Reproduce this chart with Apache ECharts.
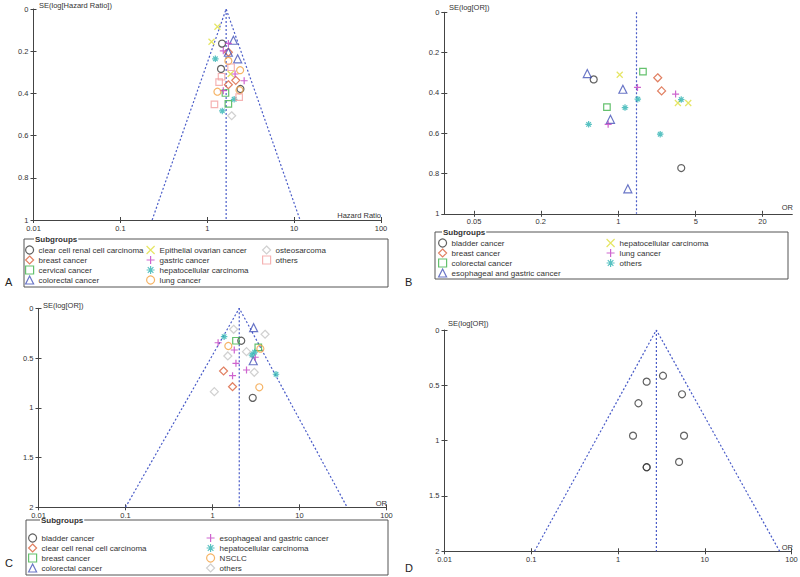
<!DOCTYPE html>
<html><head><meta charset="utf-8">
<script src="https://cdn.jsdelivr.net/npm/echarts@6/dist/echarts.min.js"></script>
<style>
html,body{margin:0;padding:0;background:#fff;}
#wrap{position:relative;width:800px;height:577px;overflow:hidden;}
.p{position:absolute;}
</style></head><body>
<div id="wrap">
<div id="pA" class="p" style="left:0;top:0;width:400px;height:290px"></div>
<div id="pB" class="p" style="left:400px;top:0;width:400px;height:290px"></div>
<div id="pC" class="p" style="left:0;top:290px;width:400px;height:287px"></div>
<div id="pD" class="p" style="left:400px;top:290px;width:400px;height:287px"></div>
</div>
<script>
// ---------- DATA (effect size, SE) ----------
// Panel A : Hazard Ratio
const A_xTicks = [0.01, 0.1, 1, 10, 100];
const A_yTicks = [0, 0.2, 0.4, 0.6, 0.8, 1];
const A_clearCell = [[1.48,0.164],[1.44,0.284],[2.41,0.379]];
const A_breast = [[1.75,0.205],[2.13,0.338],[1.75,0.359]];
const A_cervical = [[1.62,0.398],[1.75,0.45]];
const A_colorectal = [[2.0,0.148],[1.75,0.205],[2.24,0.236]];
const A_ovarian = [[1.31,0.084],[1.12,0.155],[1.86,0.308]];
const A_gastric = [[1.75,0.163],[1.53,0.198],[2.09,0.308],[2.66,0.34],[1.53,0.387]];
const A_hcc = [[1.24,0.236],[2.04,0.428],[1.49,0.483]];
const A_lung = [[1.75,0.246],[2.39,0.29],[1.31,0.392],[2.35,0.385]];
const A_osteo = [[1.91,0.506]];
const A_others = [[1.88,0.276],[1.46,0.321],[1.37,0.347],[2.33,0.418],[1.21,0.452]];
const A_funnelX = [0.232, 1.65, 11.7];
const A_funnelSE = [1, 0, 1];
const A_pooled = 1.65;

// Panel B : OR
const B_xTicks = [0.05, 0.2, 1, 5, 20];
const B_xRange = [0.0269, 37.2];
const B_yTicks = [0, 0.2, 0.4, 0.6, 0.8, 1];
const B_bladder = [[0.60,0.333],[3.70,0.773]];
const B_breast = [[2.27,0.325],[2.46,0.39]];
const B_colorectal = [[1.67,0.294],[0.79,0.471]];
const B_esoGastric = [[0.525,0.304],[1.10,0.382],[0.85,0.531],[1.22,0.876]];
const B_hcc = [[1.03,0.31],[3.45,0.45],[4.28,0.45]];
const B_lung = [[1.49,0.373],[3.29,0.406],[0.81,0.556]];
const B_others = [[1.50,0.431],[1.15,0.473],[0.54,0.556],[3.70,0.433],[2.39,0.605]];
const B_pooled = 1.46;

// Panel C : OR
const C_xTicks = [0.01, 0.1, 1, 10, 100];
const C_yTicks = [0, 0.5, 1, 1.5, 2];
const C_bladder = [[2.14,0.326],[2.90,0.90]];
const C_clearCell = [[1.34,0.63],[1.70,0.788]];
const C_breast = [[1.86,0.326],[3.36,0.392]];
const C_colorectal = [[2.97,0.195],[2.94,0.527]];
const C_esoGastric = [[1.16,0.346],[1.78,0.419],[1.86,0.553],[1.70,0.677],[2.46,0.62],[3.10,0.492]];
const C_hcc = [[1.36,0.285],[2.84,0.47],[3.05,0.44],[5.37,0.663]];
const C_nsclc = [[1.52,0.379],[3.55,0.406],[3.45,0.794]];
const C_others = [[1.75,0.211],[4.02,0.261],[1.50,0.479],[2.46,0.436],[3.02,0.643],[1.05,0.838]];
const C_funnelX = [0.10, 2.03, 35.3];
const C_funnelSE = [2, 0, 2];
const C_pooled = 2.03;

// Panel D : OR
const D_xTicks = [0.01, 0.1, 1, 10, 100];
const D_yTicks = [0, 0.5, 1, 1.5, 2];
const D_studies = [[3.30,0.413],[2.14,0.467],[5.47,0.581],[1.72,0.662],[1.49,0.955],[5.77,0.955],[5.06,1.192],[2.14,1.24],[2.14,1.24]];
const D_funnelX = [0.109, 2.77, 73];
const D_funnelSE = [2, 0, 2];
const D_pooled = 2.77;

// ---------- STYLES ----------
const FONT = "'Liberation Sans', Arial, sans-serif";
const FUNNEL = '#4a5cc8';
const AX = '#444';
const P_X = 'path://M0,0L10,10M0,10L10,0';
const P_PLUS = 'path://M5,0L5,10M0,5L10,5';
const P_AST = 'path://M1.5,1.5L8.5,8.5M1.5,8.5L8.5,1.5M5,0L5,10M0,5L10,5';
const MK = {
  blackCircle: {symbol:'circle', color:'#3a3a3a', size:7},
  redDiamond: {symbol:'diamond', color:'#d9603b', size:8},
  greenSquare: {symbol:'rect', color:'#3fb24a', size:6.5},
  blueTriangle: {symbol:'triangle', color:'#4352b8', size:8},
  yellowX: {symbol:P_X, color:'#dede3c', size:6},
  magentaPlus: {symbol:P_PLUS, color:'#c23fc2', size:7},
  cyanAst: {symbol:P_AST, color:'#2fb3b3', size:6.5},
  orangeCircle: {symbol:'circle', color:'#f2a040', size:7},
  grayDiamond: {symbol:'diamond', color:'#c4c4c4', size:8},
  pinkSquare: {symbol:'rect', color:'#f2a0a0', size:6.5}
};
const lg = v => Math.log10(v);
const fmt = v => String(Number(Math.pow(10, v).toPrecision(3)));

function scatter(name, pts, mk) {
  return {type:'scatter', name, data: pts.map(p => [lg(p[0]), p[1]]),
    symbol: mk.symbol, symbolSize: mk.size, z: 3,
    itemStyle:{color:'rgba(0,0,0,0)', borderColor: mk.color, borderWidth: 1.2},
    emphasis:{disabled:true}, silent:true};
}
function dotted(data) {
  return {type:'line', data, symbol:'none', silent:true, z:2,
    lineStyle:{color:FUNNEL, width:1.2, type:[2,2]}};
}
function legendCol(left, top, items) {
  return {orient:'vertical', left, top, padding:0, itemGap:0, itemWidth:8, itemHeight:8,
    selectedMode:false, textStyle:{fontSize:8, color:'#333', fontFamily:FONT, lineHeight:10},
    data: items.map(it => ({name: it[0], icon: it[1].symbol,
      itemStyle:{color:'rgba(0,0,0,0)', borderColor: it[1].color, borderWidth: 1.2}}))};
}
function axes(grid, xTicks, xRange, yTicks) {
  const cv = xTicks.map(lg);
  const xmin = lg(xRange[0]), xmax = lg(xRange[1]);
  const ymax = yTicks[yTicks.length - 1], yint = yTicks[1] - yTicks[0];
  const lbl = {fontSize:7.5, color:'#333', fontFamily:FONT};
  const tk = {lineStyle:{color:AX, width:1}, length:3};
  return {
    grid: Object.assign({containLabel:false, outerBoundsMode:'none'}, grid),
    xAxis: [
      {type:'value', min:xmin, max:xmax, position:'bottom',
       axisLine:{show:true, onZero:false, lineStyle:{color:AX, width:1}},
       axisTick:Object.assign({show:true, customValues:cv}, tk),
       axisLabel:Object.assign({show:true, customValues:cv, formatter:fmt, margin:4}, lbl),
       splitLine:{show:false}},
      {type:'value', min:xmin, max:xmax, position:'bottom',
       axisLine:{show:false, onZero:false},
       axisTick:Object.assign({show:true, inside:true, customValues:cv}, tk),
       axisLabel:{show:false}, splitLine:{show:false}}
    ],
    yAxis: [
      {type:'value', inverse:true, min:0, max:ymax, interval:yint, position:'left',
       axisLine:{show:true, onZero:false, lineStyle:{color:AX, width:1}},
       axisTick:Object.assign({show:true}, tk),
       axisLabel:Object.assign({show:true, margin:5}, lbl),
       splitLine:{show:false}},
      {type:'value', inverse:true, min:0, max:ymax, interval:yint, position:'left',
       axisLine:{show:false, onZero:false},
       axisTick:Object.assign({show:true, inside:true}, tk),
       axisLabel:{show:false}, splitLine:{show:false}}
    ]
  };
}
function txt(text, x, y, o) {
  return {type:'text', silent:true, style:Object.assign({text, x, y, fill:'#333',
    font:'7.5px ' + FONT, verticalAlign:'middle', align:'left'}, o || {})};
}
function legendBox(x, y, w, h, tx) {
  return [
    {type:'rect', silent:true, shape:{x, y, width:w, height:h}, style:{fill:'none', stroke:'#555', lineWidth:1}},
    txt('Subgroups', tx, y, {font:'bold 8px ' + FONT, backgroundColor:'#fff', padding:[0,1]})
  ];
}
function letter(l, x, y) { return txt(l, x, y, {font:'11px ' + FONT, fill:'#222'}); }

function make(id, opt) {
  const c = echarts.init(document.getElementById(id), null, {renderer:'svg'});
  opt.animation = false;
  c.setOption(opt);
}

// ---------- PANEL A ----------
(function(){
  const a = axes({left:33.5, top:9, width:347.5, height:211}, A_xTicks, [A_xTicks[0], A_xTicks[4]], A_yTicks);
  const series = [
    dotted(A_funnelX.map((v,i)=>[lg(v), A_funnelSE[i]])),
    dotted([[lg(A_pooled), A_yTicks[0]], [lg(A_pooled), A_yTicks[5]]]),
    scatter('clear cell renal cell carcinoma', A_clearCell, MK.blackCircle),
    scatter('breast cancer', A_breast, MK.redDiamond),
    scatter('cervical cancer', A_cervical, MK.greenSquare),
    scatter('colorectal cancer', A_colorectal, MK.blueTriangle),
    scatter('Epithelial ovarian cancer', A_ovarian, MK.yellowX),
    scatter('gastric cancer', A_gastric, MK.magentaPlus),
    scatter('hepatocellular carcinoma', A_hcc, MK.cyanAst),
    scatter('lung cancer', A_lung, MK.orangeCircle),
    scatter('osteosarcoma', A_osteo, MK.grayDiamond),
    scatter('others', A_others, MK.pinkSquare)
  ];
  make('pA', Object.assign(a, {series,
    legend:[
      legendCol(25, 245, [['clear cell renal cell carcinoma',MK.blackCircle],['breast cancer',MK.redDiamond],['cervical cancer',MK.greenSquare],['colorectal cancer',MK.blueTriangle]]),
      legendCol(146, 245, [['Epithelial ovarian cancer',MK.yellowX],['gastric cancer',MK.magentaPlus],['hepatocellular carcinoma',MK.cyanAst],['lung cancer',MK.orangeCircle]]),
      legendCol(262, 245, [['osteosarcoma',MK.grayDiamond],['others',MK.pinkSquare]])
    ],
    graphic:[
      txt('SE(log[Hazard Ratio])', 39, 5.5),
      txt('Hazard Ratio', 381, 215, {align:'right'}),
      ...legendBox(24, 239, 364, 48, 34),
      letter('A', 5, 282)
    ]}));
})();

// ---------- PANEL B ----------
(function(){
  const a = axes({left:44.3, top:12.3, width:348, height:201.5}, B_xTicks, B_xRange, B_yTicks);
  const series = [
    dotted([[lg(B_pooled), B_yTicks[0]], [lg(B_pooled), B_yTicks[5]]]),
    scatter('bladder cancer', B_bladder, MK.blackCircle),
    scatter('breast cancer', B_breast, MK.redDiamond),
    scatter('colorectal cancer', B_colorectal, MK.greenSquare),
    scatter('esophageal and gastric cancer', B_esoGastric, MK.blueTriangle),
    scatter('hepatocellular carcinoma', B_hcc, MK.yellowX),
    scatter('lung cancer', B_lung, MK.magentaPlus),
    scatter('others', B_others, MK.cyanAst)
  ];
  make('pB', Object.assign(a, {series,
    legend:[
      legendCol(38, 238, [['bladder cancer',MK.blackCircle],['breast cancer',MK.redDiamond],['colorectal cancer',MK.greenSquare],['esophageal and gastric cancer',MK.blueTriangle]]),
      legendCol(206, 238, [['hepatocellular carcinoma',MK.yellowX],['lung cancer',MK.magentaPlus],['others',MK.cyanAst]])
    ],
    graphic:[
      txt('SE(log[OR])', 49, 7),
      txt('OR', 393, 207, {align:'right'}),
      ...legendBox(35, 232, 353, 47, 42),
      letter('B', 5, 282)
    ]}));
})();

// ---------- PANEL C ----------
(function(){
  const a = axes({left:38.5, top:18.3, width:348, height:199}, C_xTicks, [C_xTicks[0], C_xTicks[4]], C_yTicks);
  const series = [
    dotted(C_funnelX.map((v,i)=>[lg(v), C_funnelSE[i]])),
    dotted([[lg(C_pooled), C_yTicks[0]], [lg(C_pooled), C_yTicks[4]]]),
    scatter('bladder cancer', C_bladder, MK.blackCircle),
    scatter('clear cell renal cell carcinoma', C_clearCell, MK.redDiamond),
    scatter('breast cancer', C_breast, MK.greenSquare),
    scatter('colorectal cancer', C_colorectal, MK.blueTriangle),
    scatter('esophageal and gastric cancer', C_esoGastric, MK.magentaPlus),
    scatter('hepatocellular carcinoma', C_hcc, MK.cyanAst),
    scatter('NSCLC', C_nsclc, MK.orangeCircle),
    scatter('others', C_others, MK.grayDiamond)
  ];
  make('pC', Object.assign(a, {series,
    legend:[
      legendCol(28, 243, [['bladder cancer',MK.blackCircle],['clear cell renal cell carcinoma',MK.redDiamond],['breast cancer',MK.greenSquare],['colorectal cancer',MK.blueTriangle]]),
      legendCol(206, 243, [['esophageal and gastric cancer',MK.magentaPlus],['hepatocellular carcinoma',MK.cyanAst],['NSCLC',MK.orangeCircle],['others',MK.grayDiamond]])
    ],
    graphic:[
      txt('SE(log[OR])', 43, 15),
      txt('OR', 387, 213, {align:'right'}),
      ...legendBox(26, 230, 362, 55, 40),
      letter('C', 5, 273)
    ]}));
})();

// ---------- PANEL D ----------
(function(){
  const a = axes({left:44.5, top:40, width:347, height:221.3}, D_xTicks, [D_xTicks[0], D_xTicks[4]], D_yTicks);
  const series = [
    dotted(D_funnelX.map((v,i)=>[lg(v), D_funnelSE[i]])),
    dotted([[lg(D_pooled), D_yTicks[0]], [lg(D_pooled), D_yTicks[4]]]),
    scatter('studies', D_studies, MK.blackCircle)
  ];
  make('pD', Object.assign(a, {series,
    graphic:[
      txt('SE(log[OR])', 48, 33),
      txt('OR', 393, 257, {align:'right'}),
      letter('D', 5, 278)
    ]}));
})();
</script>
</body></html>
